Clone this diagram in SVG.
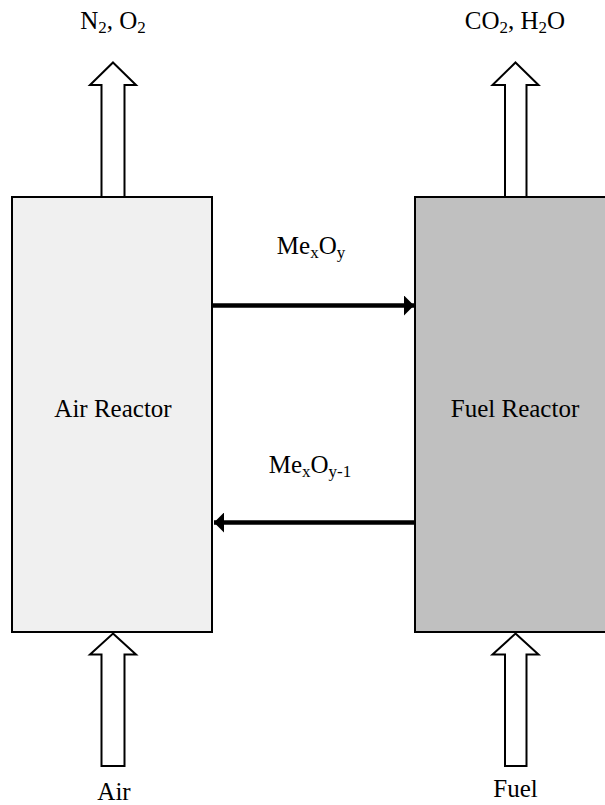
<svg xmlns="http://www.w3.org/2000/svg" width="605" height="805" viewBox="0 0 605 805">
<style>
text{font-family:'Liberation Serif','DejaVu Serif',serif;font-size:25px;fill:#000;text-anchor:middle}
.sub{font-size:17px}
.reactor{stroke:#000;stroke-width:2}
.block{fill:#fff;stroke:#000;stroke-width:2;stroke-linejoin:miter}
.flow{stroke:#000;stroke-width:4.5;fill:none}
</style>
<defs>
<marker id="ah" viewBox="0 0 10 20" refX="10" refY="10" markerWidth="10" markerHeight="20" markerUnits="userSpaceOnUse" orient="auto">
<path d="M0,0 L10,10 L0,20 Z" fill="#000"/>
</marker>
</defs>
<rect width="605" height="805" fill="#fff"/>
<g id="air-reactor">
<rect class="reactor" x="12" y="197" width="200" height="435" fill="#f0f0f0"/>
<text x="113" y="417" font-family="Liberation Serif">Air Reactor</text>
</g>
<g id="fuel-reactor">
<rect class="reactor" x="415" y="197" width="210" height="435" fill="#c0c0c0"/>
<text x="515" y="417" font-family="Liberation Serif">Fuel Reactor</text>
</g>
<g id="air-out">
<polygon class="block" points="113,62.5 136,85 124.5,85 124.5,197 101.5,197 101.5,85 90,85"/>
<text x="113" y="29">N<tspan class="sub" dy="4">2</tspan><tspan dy="-4">, O</tspan><tspan class="sub" dy="4">2</tspan></text>
</g>
<g id="fuel-out">
<polygon class="block" points="515.5,62.5 538.5,85 526.5,85 526.5,197 505,197 505,85 492.5,85"/>
<text x="515" y="29">CO<tspan class="sub" dy="4">2</tspan><tspan dy="-4">, H</tspan><tspan class="sub" dy="4">2</tspan><tspan dy="-4">O</tspan></text>
</g>
<g id="air-in">
<polygon class="block" points="113,633.5 136,654.5 124.5,654.5 124.5,766 101.5,766 101.5,654.5 90,654.5"/>
<text x="114" y="800">Air</text>
</g>
<g id="fuel-in">
<polygon class="block" points="515.5,633.5 538.5,654.5 526.5,654.5 526.5,766 505,766 505,654.5 492.5,654.5"/>
<text x="515.5" y="797">Fuel</text>
</g>
<g id="connectors">
<line class="flow" x1="213" y1="305.5" x2="414" y2="305.5" marker-end="url(#ah)"/>
<line class="flow" x1="414" y1="522.5" x2="214" y2="522.5" marker-end="url(#ah)"/>
<text x="311" y="254">Me<tspan class="sub" dy="4">x</tspan><tspan dy="-4">O</tspan><tspan class="sub" dy="4">y</tspan></text>
<text x="310" y="473">Me<tspan class="sub" dy="4">x</tspan><tspan dy="-4">O</tspan><tspan class="sub" dy="4">y-1</tspan></text>
</g>
</svg>
